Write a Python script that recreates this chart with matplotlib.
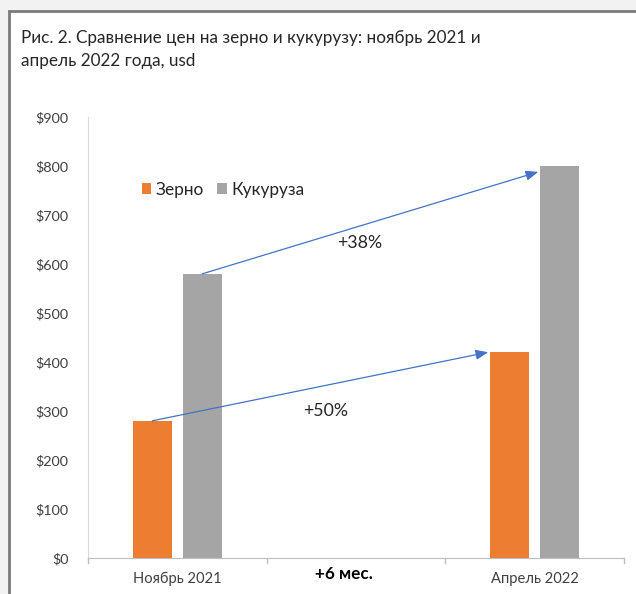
import matplotlib
matplotlib.use("Agg")
import matplotlib.pyplot as plt
from matplotlib.patches import Rectangle
from matplotlib.transforms import blended_transform_factory

plt.rcParams['font.family'] = ['Lato', 'DejaVu Sans']

# Data
categories = ["Ноябрь 2021", "+6 мес.", "Апрель 2022"]
grain = [280, None, 420]
corn = [580, None, 800]
series_names = ["Зерно", "Кукуруза"]
change_labels = ["+50%", "+38%"]
yticks = [0, 100, 200, 300, 400, 500, 600, 700, 800, 900]

orange = "#ED7D31"
gray = "#A5A5A5"
arrow_col = "#4472C4"

fig = plt.figure(figsize=(6.36, 5.94), dpi=100)
fig.patch.set_facecolor("#f2f2f2")

W, H = 636, 594
# background layer: white panel with a dark frame on the top and left
bg_ax = fig.add_axes([0, 0, 1, 1], zorder=-10)
bg_ax.set_xlim(0, W)
bg_ax.set_ylim(H, 0)
bg_ax.axis("off")
bg_ax.add_patch(Rectangle((8.5, 10.5), W + 20, H + 20, facecolor="white",
                          edgecolor="#7a7a7a", linewidth=2))

fig.text(21 / W, 1 - 38 / H, "Рис. 2. Сравнение цен на зерно и кукурузу: ноябрь 2021 и",
         fontsize=12.3, color="#262626", va="center", ha="left")
fig.text(21 / W, 1 - 61 / H, "апрель 2022 года, usd",
         fontsize=12.3, color="#262626", va="center", ha="left")

ax = fig.add_axes([88 / W, (H - 558) / H, (624 - 88) / W, (558 - 117) / H])
ax.set_facecolor("none")

w = 0.22
off = 0.14
idx = [i for i, v in enumerate(grain) if v is not None]
ax.bar([i - off for i in idx], [grain[i] for i in idx], width=w, color=orange,
       label=series_names[0], zorder=2)
ax.bar([i + off for i in idx], [corn[i] for i in idx], width=w, color=gray,
       label=series_names[1], zorder=2)

ax.set_xlim(-0.5, 2.5)
ax.set_ylim(0, 900)
ax.set_yticks(yticks)
ax.set_yticklabels([f"${v}" for v in yticks], fontsize=10.4, color="#404040")
ax.set_xticks([0, 2])
ax.set_xticklabels([categories[0], categories[2]], fontsize=10.6, color="#404040")
ax.tick_params(axis="x", length=0, pad=10)
ax.tick_params(axis="y", length=0, pad=14)
# bold middle category label, set slightly left and higher
trans = blended_transform_factory(ax.transData, ax.transAxes)
ax.text(0.93, -16 / 441, categories[1], transform=trans, fontsize=12.3,
        fontweight="bold", color="#000000", ha="center", va="center")
# category separators on the x axis
for b in [-0.5, 0.5, 1.5, 2.5]:
    ax.plot([b, b], [0, -10], color="#bfbfbf", lw=1, clip_on=False, zorder=3)

for s in ["top", "right"]:
    ax.spines[s].set_visible(False)
ax.spines["left"].set_color("#d9d9d9")
ax.spines["bottom"].set_color("#bfbfbf")

# growth arrows between periods
style = "-|>,head_length=0.75,head_width=0.3"
ax.annotate("", xy=(2 - off - w / 2 - 0.01, grain[2]), xytext=(0 - off, grain[0]),
            arrowprops=dict(arrowstyle=style, color=arrow_col, lw=0.9,
                            shrinkA=0, shrinkB=0), zorder=4)
ax.annotate("", xy=(2 + off - w / 2 - 0.01, corn[2] - 12), xytext=(0 + off, corn[0]),
            arrowprops=dict(arrowstyle=style, color=arrow_col, lw=0.9,
                            shrinkA=0, shrinkB=0), zorder=4)
ax.text(0.83, 300, change_labels[0], fontsize=12.8, color="#262626", ha="center", va="center")
ax.text(1.02, 642, change_labels[1], fontsize=12.8, color="#262626", ha="center", va="center")

ax.legend(loc="center left", bbox_to_anchor=(0.071, 0.835), ncol=2, frameon=False,
          fontsize=12.4, handlelength=0.55, handleheight=0.55, handletextpad=0.25,
          columnspacing=0.8, labelcolor="#262626")

fig.savefig("out.png", dpi=100, facecolor=fig.get_facecolor())
